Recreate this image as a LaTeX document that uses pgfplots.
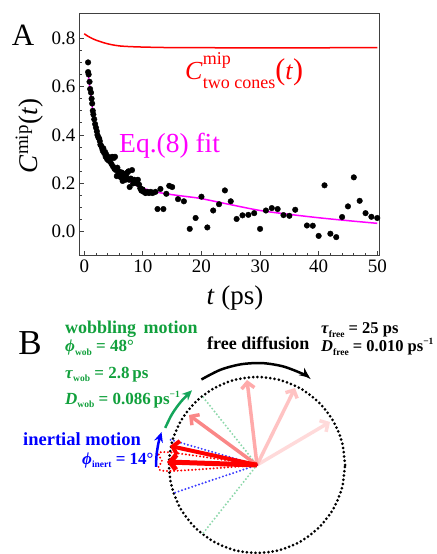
\documentclass[border=0pt]{standalone}
\usepackage{pgfplots}
\pgfplotsset{compat=1.18}
\usepackage{pgfplotstable}
\usepackage{fontspec}
\setmainfont{Liberation Serif}
\usetikzlibrary{arrows.meta}
\definecolor{wobgreen}{RGB}{17,160,60}
\definecolor{arcgreen}{RGB}{20,165,90}
\definecolor{lightgreen}{RGB}{140,215,170}
\definecolor{mag}{RGB}{255,0,255}
\definecolor{dotblue}{RGB}{60,60,255}
\definecolor{pinkA}{RGB}{250,135,135}
\definecolor{pinkB}{RGB}{255,170,170}
\definecolor{pinkC}{RGB}{255,195,195}
\definecolor{pinkD}{RGB}{255,218,218}
\newcommand\fs[1]{\fontsize{#1}{#1}\selectfont}
\newcommand\sbs[1]{\raisebox{-0.45ex}{\fs{9.5bp}#1}}
\newcommand\sps[1]{\raisebox{0.9ex}{\fs{9.5bp}#1}}

\pgfplotstableread{
t v
0.65 0.70
0.65 0.66
0.75 0.65
0.9 0.62
1.0 0.59
1.15 0.575
1.25 0.55
1.35 0.53
1.45 0.50
1.55 0.485
1.7 0.465
1.85 0.445
2.0 0.43
2.15 0.415
2.25 0.40
2.4 0.39
2.55 0.385
2.65 0.375
2.75 0.36
2.9 0.355
3.05 0.345
3.15 0.335
3.25 0.345
3.4 0.325
3.55 0.33
3.65 0.31
3.75 0.32
3.9 0.30
4.05 0.31
4.15 0.295
4.25 0.30
4.4 0.29
4.55 0.305
4.65 0.28
4.75 0.31
4.9 0.27
5.05 0.305
5.15 0.26
5.25 0.31
5.4 0.255
5.55 0.23
5.65 0.265
5.75 0.235
5.9 0.25
6.05 0.23
6.15 0.24
6.25 0.225
6.4 0.245
6.55 0.21
6.65 0.235
6.75 0.24
6.9 0.225
7.05 0.215
7.15 0.23
7.35 0.245
7.55 0.25
7.65 0.215
7.75 0.185
7.95 0.22
8.15 0.255
8.35 0.20
8.55 0.215
8.75 0.21
8.95 0.20
9.15 0.215
9.35 0.195
9.55 0.18
9.75 0.17
9.95 0.175
10.15 0.165
10.45 0.16
10.75 0.165
11.05 0.16
11.35 0.165
11.65 0.16
12.15 0.165
12.5 0.094
13 0.177
13.5 0.094
14 0.157
14.5 0.19
15 0.185
16 0.135
17 0.126
18 0.012
19 0.057
20 0.145
21 0.018
22 0.088
23 0.114
24 0.171
25 0.126
26 0.053
27 0.068
28 0.070
29 0.077
30 0.012
31 0.088
32 0.098
33 0.094
34 0.069
35 0.066
36 0.091
38 0.026
39 0.025
40 -0.017
41 0.192
42 -0.008
43 -0.022
44 0.061
45 0.105
46 0.225
47 0.128
48 0.077
49 0.062
50 0.057
}\mipdata

\pgfplotstableread{
t v
0.7 0.645
1.0 0.585
1.5 0.495
2.0 0.425
2.5 0.375
3.0 0.34
3.5 0.313
4.0 0.295
5.0 0.268
6.0 0.245
7.0 0.224
8.0 0.205
9.0 0.19
10 0.18
12 0.166
14 0.157
16 0.15
18 0.144
20 0.137
25 0.112
30 0.088
35 0.072
40 0.058
45 0.046
50 0.035
}\fitdata

\pgfplotstableread{
t v
0 0.818
0.5 0.81
1 0.803
1.5 0.797
2 0.792
2.7 0.786
3.5 0.780
4.5 0.774
6 0.768
8 0.765
10.5 0.763
15 0.761
20 0.7605
50 0.7605
}\conedata

\begin{document}
\begin{tikzpicture}[x=1bp,y=1bp]
\path[use as bounding box] (0,0) rectangle (437,554);
% ---------------- Panel A ----------------
\begin{axis}[
  at={(79bp,298bp)}, anchor=south west,
  scale only axis, width=300bp, height=242bp,
  xmin=-0.9, xmax=50.3, ymin=-0.1, ymax=0.9,
  xtick={0,10,20,30,40,50}, ytick={0,0.2,0.4,0.6,0.8},
  minor x tick num=4, minor y tick num=3,
  tick pos=left, tick align=inside,
  major tick length=5bp, minor tick length=3bp,
  axis line style={line width=1bp, black!75},
  every tick/.style={black!75, line width=0.8bp},
  y tick label style={/pgf/number format/.cd, fixed, fixed zerofill, precision=1},
  /pgf/number format/assume math mode=true,
  tick label style={font=\fs{19bp}},
  clip=false,
]
\addplot[red, line width=1.5bp, smooth] table[x=t,y=v] {\conedata};
\addplot[only marks, mark=*, mark size=2.8bp, black] table[x=t,y=v] {\mipdata};
\addplot[mag, line width=1.5bp, smooth] table[x=t,y=v] {\fitdata};
\end{axis}
\node[font=\fs{31bp}] at (23,519) {A};
\node[anchor=base, rotate=90, font=\fs{27bp}] at (37,418) {\textit{C}\textsuperscript{mip}(\textit{t})};
\node[anchor=base, font=\fs{27bp}] at (235,249) {\textit{t} (ps)};
\node[anchor=base west, text=red, font=\fs{26bp}, inner sep=0pt] at (185,474.7)
  {\textit{C}\rlap{\raisebox{0.55em}{\fs{18bp}mip}}\raisebox{-0.35em}{\fs{18bp}two cones}{\fs{30bp}(}\textit{t}{\fs{30bp})}};
\node[anchor=base west, text=mag, font=\fs{27.5bp}, inner sep=0pt] at (119,401.3) {Eq.(8) fit};
% ---------------- Panel B ----------------
\begin{axis}[
  at={(0bp,0bp)}, anchor=south west,
  scale only axis, width=437bp, height=260bp,
  xmin=-257, xmax=180, ymin=-89, ymax=171,
  hide axis, clip=false,
]
% dotted circle
\addplot[black, line width=3bp, dash pattern=on 0pt off 4.3bp, line cap=round, smooth] coordinates {
(88,0) (85.0,22.8) (76.2,44) (62.2,62.2) (44,76.2) (22.8,85.0) (0,88)
(-22.8,85.0) (-44,76.2) (-62.2,62.2) (-76.2,44) (-85.0,22.8) (-88,0)
(-85.0,-22.8) (-76.2,-44) (-62.2,-62.2) (-44,-76.2) (-22.8,-85.0) (0,-88)
(22.8,-85.0) (44,-76.2) (62.2,-62.2) (76.2,-44) (85.0,-22.8) (88,0)};
% green cone
\addplot[lightgreen, line width=2.2bp, dash pattern=on 0pt off 3.6bp, line cap=round] coordinates {(0,0) (-55.6,70)};
\addplot[lightgreen, line width=2.2bp, dash pattern=on 0pt off 3.6bp, line cap=round] coordinates {(0,0) (-54,-68.3)};
% pink arrows (free diffusion)
\addplot[pinkD, line width=3.5bp, -{Straight Barb[length=6bp,width=13bp]}] coordinates {(0,0) (73,43)};
\addplot[pinkC, line width=3.5bp, -{Straight Barb[length=6bp,width=13bp]}] coordinates {(0,0) (38,77)};
\addplot[pinkB, line width=3.5bp, -{Straight Barb[length=6bp,width=13bp]}] coordinates {(0,0) (-10,85)};
\addplot[pinkA, line width=3.5bp, -{Straight Barb[length=6bp,width=13bp]}] coordinates {(0,0) (-68,50)};
% blue cone
\addplot[dotblue, line width=2.2bp, dash pattern=on 0pt off 3.6bp, line cap=round] coordinates {(0,0) (-88,25.7)};
\addplot[dotblue, line width=2.2bp, dash pattern=on 0pt off 3.6bp, line cap=round] coordinates {(0,0) (-84,-28.3)};
% red cone
\addplot[red, line width=2.2bp, dash pattern=on 0pt off 3.6bp, line cap=round, smooth] coordinates {(0,0) (-92,13) (-95,4) (-92,-6) (0,0)};
% red arrows
\addplot[red, line width=4bp, -{Straight Barb[length=6bp,width=14bp]}] coordinates {(0,0) (-87,19)};
\addplot[red, line width=5bp, -{Straight Barb[length=6bp,width=15bp]}] coordinates {(0,0) (-90,3)};
% curved arrows
\addplot[black, line width=2.5bp, smooth, -{Stealth[length=10bp,width=9bp]}] coordinates {
(-55.6,85.5) (-36.6,95.2) (-16.0,100.7) (5.3,101.9) (26.4,98.5) (46.3,90.9) (52.5,87.4)};
\addplot[arcgreen, line width=2.5bp, smooth, -{Stealth[length=10bp,width=9bp]}] coordinates {
(-91.8,37.1) (-84.9,51.0) (-75.8,63.6) (-65.0,74.7)};
\addplot[blue, line width=2.5bp, smooth, -{Stealth[length=10bp,width=9bp]}] coordinates {
(-101,-1.8) (-100.4,10.6) (-98.4,22.7) (-95.5,32.9)};
\end{axis}
\node[font=\fs{35bp}] at (30,211) {B};
\begin{scope}[every node/.style={anchor=base west, inner sep=0pt}]
\node[text=wobgreen, font=\bfseries\fs{18bp}] at (65,220) {wobbling\, motion};
\node[text=wobgreen, font=\bfseries\fs{17bp}] at (65,202) {\textit{ϕ}\sbs{wob} = 48°};
\node[text=wobgreen, font=\bfseries\fs{17bp}] at (65,175.7) {\textit{τ}\sbs{wob} = 2.8\,ps};
\node[text=wobgreen, font=\bfseries\fs{17bp}] at (65,149.7) {\textit{D}\sbs{wob} = 0.086\,ps\sps{−1}};
\node[text=blue, font=\bfseries\fs{18.5bp}] at (23,108) {inertial motion};
\node[text=blue, font=\bfseries\fs{17bp}] at (82,89.7) {\textit{ϕ}\sbs{inert} = 14°};
\node[text=black, font=\bfseries\fs{18bp}] at (207,204.7) {free diffusion};
\node[text=black, font=\bfseries\fs{16.5bp}] at (321,220) {\textit{τ}\sbs{free} = 25 ps};
\node[text=black, font=\bfseries\fs{16.5bp}] at (321,202.3) {\textit{D}\sbs{free} = 0.010 ps\sps{−1}};
\end{scope}
\end{tikzpicture}
\end{document}
